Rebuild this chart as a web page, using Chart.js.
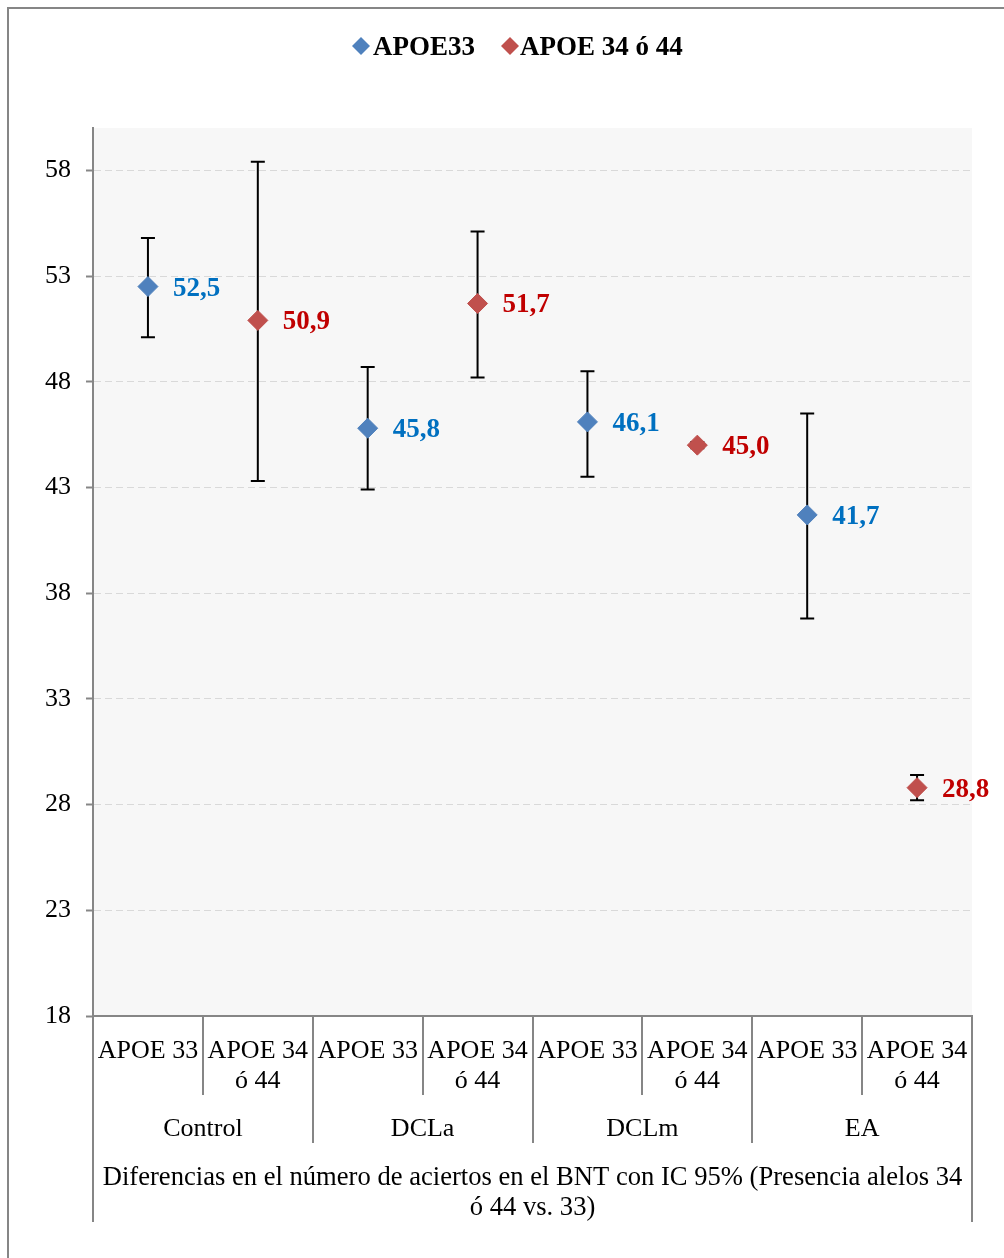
<!DOCTYPE html>
<html>
<head>
<meta charset="utf-8">
<title>BNT - APOE</title>
<script src="https://cdn.jsdelivr.net/npm/chart.js@4/dist/chart.umd.min.js"></script>
<style>
  html, body { margin: 0; padding: 0; background: #fff; }
  #wrap { width: 1004px; height: 1258px; }
</style>
</head>
<body>
<div id="wrap"><canvas id="grafico" width="1004" height="1258"></canvas></div>
<script>
// categorías del eje X (primer nivel) y grupos (segundo nivel)
const categorias = [
  "APOE 33", ["APOE 34", "ó 44"],
  "APOE 33", ["APOE 34", "ó 44"],
  "APOE 33", ["APOE 34", "ó 44"],
  "APOE 33", ["APOE 34", "ó 44"]
];
const grupos = ["Control", "DCLa", "DCLm", "EA"];
const tituloEje = [
  "Diferencias en el número de aciertos en el BNT con IC 95% (Presencia alelos 34",
  "ó 44 vs. 33)"
];
const ticksY = [18, 23, 28, 33, 38, 43, 48, 53, 58];

// medias e intervalos de confianza 95%
const apoe33 = [52.5, null, 45.8, null, 46.1, null, 41.7, null];
const apoe33Inf = [50.1, null, 42.9, null, 43.5, null, 36.8, null];
const apoe33Sup = [54.8, null, 48.7, null, 48.5, null, 46.5, null];

const apoe3444 = [null, 50.9, null, 51.7, null, 45.0, null, 28.8];
const apoe3444Inf = [null, 43.3, null, 48.2, null, 44.85, null, 28.2];
const apoe3444Sup = [null, 58.4, null, 55.1, null, 45.15, null, 29.4];

const azul = "#4f81bd";
const rojo = "#c0504d";
const gris = "#868686";
const fuente = "'Liberation Serif', 'Times New Roman', serif";

// fondo, marco y área de trazado
const fondo = {
  id: "fondo",
  beforeDraw(chart) {
    const ctx = chart.ctx;
    const a = chart.chartArea;
    ctx.save();
    ctx.fillStyle = "#fff";
    ctx.fillRect(0, 0, chart.width, chart.height);
    ctx.strokeStyle = gris;
    ctx.lineWidth = 2;
    ctx.beginPath();
    ctx.moveTo(8, chart.height + 2);
    ctx.lineTo(8, 8);
    ctx.lineTo(chart.width + 2, 8);
    ctx.stroke();
    ctx.fillStyle = "#f7f7f7";
    ctx.fillRect(a.left, a.top, a.right - a.left, a.bottom - a.top);
    ctx.restore();
  }
};

// barras de error (detrás de los marcadores)
const barrasError = {
  id: "barrasError",
  beforeDatasetsDraw(chart) {
    const ctx = chart.ctx;
    const x = chart.scales.x;
    const y = chart.scales.y;
    const series = [[apoe33Inf, apoe33Sup], [apoe3444Inf, apoe3444Sup]];
    ctx.save();
    ctx.setLineDash([]);
    ctx.strokeStyle = "#000";
    ctx.lineWidth = 2;
    series.forEach(([inf, sup]) => {
      inf.forEach((v, i) => {
        if (v === null) return;
        const px = x.getPixelForValue(i);
        const y1 = y.getPixelForValue(v);
        const y2 = y.getPixelForValue(sup[i]);
        ctx.beginPath();
        ctx.moveTo(px, y1); ctx.lineTo(px, y2);
        ctx.moveTo(px - 7, y1); ctx.lineTo(px + 7, y1);
        ctx.moveTo(px - 7, y2); ctx.lineTo(px + 7, y2);
        ctx.stroke();
      });
    });
    ctx.restore();
  }
};

function rombo(ctx, cx, cy, r, color) {
  ctx.fillStyle = color;
  ctx.beginPath();
  ctx.moveTo(cx - r, cy);
  ctx.lineTo(cx, cy - r);
  ctx.lineTo(cx + r, cy);
  ctx.lineTo(cx, cy + r);
  ctx.closePath();
  ctx.fill();
}

// etiquetas de valores, leyenda y niveles del eje X
const extras = {
  id: "extras",
  afterDraw(chart) {
    const ctx = chart.ctx;
    const a = chart.chartArea;
    const x = chart.scales.x;
    ctx.save();
    ctx.setLineDash([]);

    // etiquetas de datos
    ctx.font = "bold 27px " + fuente;
    ctx.textAlign = "left";
    ctx.textBaseline = "middle";
    chart.data.datasets.forEach((ds, d) => {
      const meta = chart.getDatasetMeta(d);
      ctx.fillStyle = d === 0 ? "#0070c0" : "#c00000";
      ds.data.forEach((v, i) => {
        if (v === null) return;
        const p = meta.data[i];
        ctx.fillText(v.toFixed(1).replace(".", ","), p.x + 25, p.y + 2);
      });
    });

    // leyenda
    rombo(ctx, 361, 46, 9, azul);
    ctx.fillStyle = "#000";
    ctx.fillText("APOE33", 373, 48);
    rombo(ctx, 510, 46, 9, rojo);
    ctx.fillStyle = "#000";
    ctx.fillText("APOE 34 ó 44", 520, 48);

    // eje vertical prolongado y divisiones del eje de categorías
    const paso = (a.right - a.left) / categorias.length;
    ctx.strokeStyle = gris;
    ctx.lineWidth = 2;
    ctx.beginPath();
    ctx.moveTo(a.left, a.top); ctx.lineTo(a.left, 1222);
    ctx.moveTo(a.right, a.bottom); ctx.lineTo(a.right, 1222);
    for (let i = 1; i < categorias.length; i++) {
      const px = Math.round(a.left + paso * i);
      ctx.moveTo(px, a.bottom);
      ctx.lineTo(px, i % 2 === 0 ? 1143 : 1095);
    }
    ctx.stroke();

    // grupos y título
    ctx.font = "26px " + fuente;
    ctx.fillStyle = "#000";
    ctx.textAlign = "center";
    grupos.forEach((g, i) => {
      const cx = (x.getPixelForValue(2 * i) + x.getPixelForValue(2 * i + 1)) / 2;
      ctx.fillText(g, cx, 1129);
    });
    ctx.font = "26.6px " + fuente;
    const cx = (a.left + a.right) / 2;
    tituloEje.forEach((t, i) => ctx.fillText(t, cx, 1178 + i * 30));

    ctx.restore();
  }
};

const canva = document.getElementById("grafico");

new Chart(canva, {
  type: "line",
  data: {
    labels: categorias,
    datasets: [
      {
        label: "APOE33",
        data: apoe33,
        showLine: false,
        pointStyle: "rectRot",
        pointRadius: 10,
        pointHoverRadius: 10,
        pointBackgroundColor: azul,
        pointBorderColor: azul,
        pointBorderWidth: 1
      },
      {
        label: "APOE 34 ó 44",
        data: apoe3444,
        showLine: false,
        pointStyle: "rectRot",
        pointRadius: 10,
        pointHoverRadius: 10,
        pointBackgroundColor: rojo,
        pointBorderColor: rojo,
        pointBorderWidth: 1
      }
    ]
  },
  plugins: [fondo, barrasError, extras],
  options: {
    responsive: false,
    animation: false,
    events: [],
    layout: { padding: { top: 128, left: 0, right: 32, bottom: 0 } },
    plugins: {
      legend: { display: false },
      tooltip: { enabled: false }
    },
    scales: {
      x: {
        type: "category",
        offset: true,
        afterFit(scale) { scale.height = 242; },
        grid: { display: false, drawTicks: false },
        border: { display: true, color: gris, width: 2 },
        ticks: {
          color: "#000",
          autoSkip: false,
          maxRotation: 0,
          minRotation: 0,
          padding: 20,
          font: { family: fuente, size: 26, lineHeight: 1.15 }
        }
      },
      y: {
        min: 18,
        max: 60,
        afterFit(scale) { scale.width = 93; },
        afterBuildTicks(scale) { scale.ticks = ticksY.map(v => ({ value: v })); },
        // en v4 border.dash controla el trazo de las líneas de cuadrícula
        border: { display: true, color: gris, width: 2, dash: [7, 4] },
        grid: {
          color: "#d9d9d9",
          lineWidth: 1,
          tickColor: gris,
          tickWidth: 2,
          tickLength: 7,
          tickBorderDash: []
        },
        ticks: {
          color: "#000",
          padding: 15,
          font: { family: fuente, size: 26 }
        }
      }
    }
  }
});
</script>
</body>
</html>
